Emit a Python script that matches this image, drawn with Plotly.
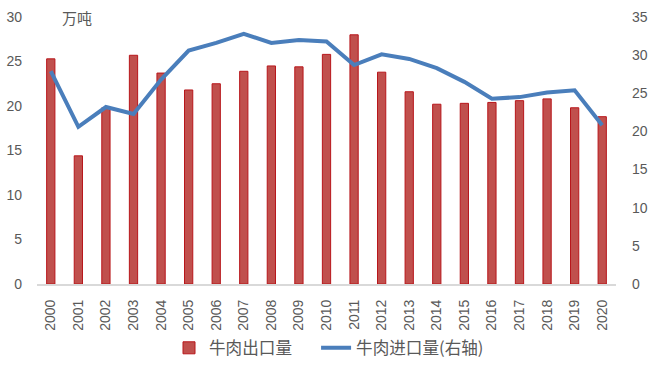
import plotly.graph_objects as go

years = [str(y) for y in range(2000, 2021)]
export_vals = [25.3, 14.4, 19.8, 25.7, 23.7, 21.8, 22.5, 23.9, 24.5, 24.4, 25.8,
               28.0, 23.8, 21.6, 20.2, 20.3, 20.4, 20.6, 20.8, 19.8, 18.8]
import_vals = [27.9, 20.6, 23.2, 22.3, 26.8, 30.6, 31.6, 32.8, 31.6, 32.0, 31.8,
               28.7, 30.1, 29.5, 28.3, 26.5, 24.3, 24.5, 25.1, 25.4, 20.8]
left_ticks = [0, 5, 10, 15, 20, 25, 30]
right_ticks = [0, 5, 10, 15, 20, 25, 30, 35]

num_font = "Liberation Sans, Arial, sans-serif"
cjk_font = "Noto Sans CJK SC, sans-serif"
gray = "#595959"

fig = go.Figure()
fig.add_trace(go.Bar(
    x=years, y=export_vals, name="牛肉出口量", legend="legend",
    marker=dict(color="#c0504d", line=dict(color="#b8161b", width=1)),
    width=0.3,
))
fig.add_trace(go.Scatter(
    x=years, y=import_vals, name="牛肉进口量(右轴)", yaxis="y2", legend="legend2",
    mode="lines", line=dict(color="#4a7ebb", width=4),
))

legend_common = dict(orientation="h", xanchor="left", yref="container",
                     y=0.0945, yanchor="top",
                     font=dict(size=16.6, color=gray, family=cjk_font),
                     bgcolor="rgba(0,0,0,0)")

fig.update_layout(
    width=650, height=365,
    margin=dict(l=37, r=34, t=17, b=81),
    paper_bgcolor="white", plot_bgcolor="white",
    font=dict(family=num_font, size=14, color=gray),
    showlegend=True,
    legend=dict(x=0.228, **legend_common),
    legend2=dict(x=0.482, **legend_common),
    xaxis=dict(type="category", tickangle=-90, showgrid=False, automargin=False,
               showline=True, linecolor="#d9d9d9", linewidth=2,
               ticks="", tickfont=dict(size=14, color=gray, family=num_font),
               range=[-0.5, 20.5], ticklabelstandoff=8),
    yaxis=dict(range=[0, 30], tickvals=left_ticks, showgrid=False, zeroline=False,
               ticks="", automargin=False, ticklabelstandoff=14,
               tickfont=dict(size=14, color=gray, family=num_font)),
    yaxis2=dict(range=[0, 35], tickvals=right_ticks, overlaying="y", side="right",
                showgrid=False, zeroline=False, ticks="", automargin=False,
                ticklabelstandoff=15,
                tickfont=dict(size=14, color=gray, family=num_font)),
    bargap=0.7,
    annotations=[dict(text="万吨", xref="paper", yref="paper", x=0.04, y=1.0,
                      xanchor="left", yanchor="middle", showarrow=False,
                      font=dict(size=15, color=gray, family=cjk_font))],
)

fig.write_html("out.html",
               config={"displayModeBar": False},
               post_script="document.body.style.margin='0';document.body.style.overflow='hidden';")
